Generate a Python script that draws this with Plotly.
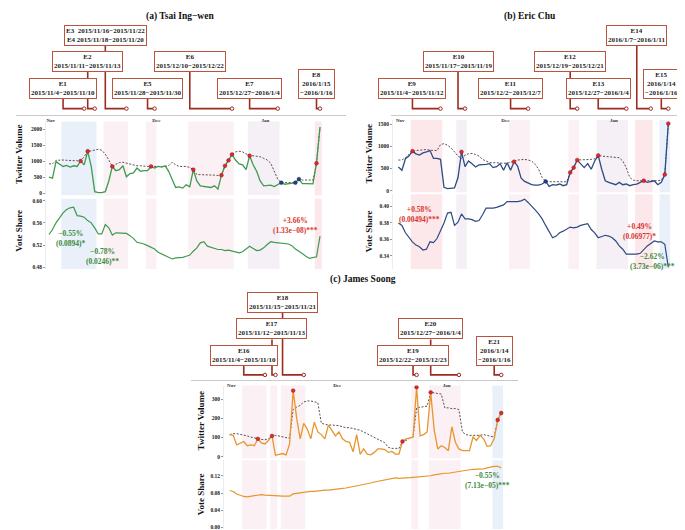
import pandas as pd
import plotly.graph_objects as go

W, H = 685, 530
SERIF = "Liberation Serif"

# ------------------------------------------------------------------ data
dates = pd.date_range("2015-10-31 12:00", periods=78, freq="D")
month_ticks = ["2015-11-01", "2015-12-01", "2016-01-01"]
month_labels = ["Nov", "Dec", "Jan"]

# (a) Tsai Ing-wen
vol_a = [505, 475, 990, 919, 838, 869, 818, 859, 838, 1010, 889, 1313, 838, 50, 20, 20, 50, 384, 838, 707,
         737, 859, 515, 616, 636, 788, 687, 707, 707, 838, 788, 838, 818, 859, 687, 434, 182, 202, 162, 263,
         202, 737, 384, 232, 212, 202, 182, 232, 131, 566, 859, 1030, 1212, 1040, 919, 889, 737, 1172, 889, 687,
         384, 232, 232, 253, 212, 283, 333, 283, 303, 303, 333, 444, 303, 303, 303, 293, 939, 2070]
base_a = [919, 919, 1030, 1040, 1040, 1030, 1030, 1020, 1010, 1010, 1141, 1313, 1323, 1353, 1374, 1343, 1222, 1040, 838, 909,
          960, 970, 939, 919, 889, 859, 859, 838, 838, 838, 838, 818, 818, 838, 859, 970, 889, 838, 838, 838,
          808, 737, 586, 586, 586, 586, 576, 566, 556, 566, 859, 1030, 1212, 1293, 1313, 1293, 1242, 1172, 1172, 1162,
          1141, 1091, 1040, 939, 687, 434, 333, 333, 333, 333, 333, 444, 414, 414, 414, 414, 939, 2070]
vote_a = [0.539, 0.548, 0.560, 0.569, 0.578, 0.584, 0.587, 0.588, 0.573, 0.572, 0.570, 0.564, 0.560, 0.551, 0.540, 0.540,
          0.557, 0.551, 0.538, 0.542, 0.542, 0.542, 0.541, 0.537, 0.532, 0.525, 0.524, 0.522, 0.519, 0.516, 0.513, 0.507,
          0.504, 0.501, 0.498, 0.495, 0.497, 0.497, 0.498, 0.500, 0.502, 0.509, 0.515, 0.524, 0.526, 0.518, 0.516, 0.515,
          0.512, 0.512, 0.510, 0.511, 0.509, 0.507, 0.506, 0.508, 0.513, 0.518, 0.514, 0.510, 0.511, 0.515, 0.521, 0.526,
          0.525, 0.524, 0.523, 0.522, 0.522, 0.519, 0.513, 0.509, 0.504, 0.500, 0.496, 0.497, 0.499, 0.536]
red_a = ["2015-11-09", "2015-11-11", "2015-11-18", "2015-11-29", "2015-12-11", "2015-12-19", "2015-12-20",
         "2015-12-21", "2015-12-22", "2015-12-27", "2016-01-15"]
blue_a = ["2016-01-05", "2016-01-09", "2016-01-10"]
events_a = [
    ("E1<br>2015/11/4−2015/11/10", "2015-11-04", "2015-11-10", 1, "neg"),
    ("E2<br>2015/11/11−2015/11/13", "2015-11-11", "2015-11-13", 2, "neg"),
    ("E3  2015/11/16−2015/11/22<br>E4 2015/11/18−2015/11/20", "2015-11-16", "2015-11-22", 3, "light"),
    ("E5<br>2015/11/28−2015/11/30", "2015-11-28", "2015-11-30", 1, "light"),
    ("E6<br>2015/12/10−2015/12/22", "2015-12-10", "2015-12-22", 2, "light"),
    ("E7<br>2015/12/27−2016/1/4", "2015-12-27", "2016-01-04", 1, "lav"),
    ("E8<br>2016/1/15<br>−2016/1/16", "2016-01-15", "2016-01-16", 1, "pos"),
]
effects_a = [
    ("−0.55%", "(0.0894)*", "2015-11-06 18:00", 0.5316, "neg"),
    ("−0.78%", "(0.0246)**", "2015-11-15 20:00", 0.4993, "neg"),
    ("+3.66%", "(1.33e−08)***", "2016-01-09 10:00", 0.5558, "pos"),
]

# (b) Eric Chu
vol_b = [535, 461, 721, 780, 892, 832, 802, 854, 877, 906, 728, 728, 706, 74, 45, 45, 59, 297, 877, 542,
         669, 609, 535, 580, 580, 594, 609, 520, 542, 609, 461, 632, 461, 654, 557, 282, 208, 171, 134, 126,
         126, 149, 208, 97, 134, 126, 149, 111, 134, 409, 520, 691, 594, 520, 609, 483, 669, 795, 483, 223,
         186, 163, 134, 186, 134, 149, 111, 134, 149, 186, 223, 186, 201, 223, 134, 186, 364, 1516]
base_b = [691, 691, 743, 817, 892, 906, 914, 921, 929, 914, 914, 906, 1040, 1062, 1025, 966, 877, 780, 728, 802,
          832, 840, 817, 780, 706, 669, 632, 632, 632, 624, 617, 617, 646, 654, 691, 706, 706, 691, 669, 594,
          483, 297, 208, 201, 201, 201, 201, 201, 201, 409, 520, 691, 691, 706, 706, 706, 721, 795, 780, 773,
          765, 773, 765, 743, 669, 520, 297, 238, 223, 223, 223, 208, 208, 208, 223, 238, 364, 1516]
vote_b = [0.380, 0.377, 0.368, 0.362, 0.357, 0.353, 0.351, 0.347, 0.348, 0.357, 0.356, 0.361, 0.370, 0.380, 0.392, 0.393,
          0.377, 0.381, 0.391, 0.385, 0.385, 0.384, 0.382, 0.383, 0.390, 0.398, 0.398, 0.398, 0.399, 0.401, 0.402, 0.406,
          0.406, 0.406, 0.406, 0.407, 0.409, 0.405, 0.401, 0.396, 0.391, 0.385, 0.377, 0.369, 0.362, 0.364, 0.368, 0.370,
          0.372, 0.375, 0.374, 0.375, 0.377, 0.378, 0.379, 0.372, 0.368, 0.362, 0.364, 0.365, 0.364, 0.362, 0.358, 0.352,
          0.348, 0.342, 0.342, 0.342, 0.342, 0.343, 0.348, 0.352, 0.355, 0.358, 0.357, 0.357, 0.354, 0.326]
red_b = ["2015-11-04", "2015-11-18", "2015-12-03", "2015-12-19", "2015-12-20", "2015-12-21", "2015-12-27",
         "2016-01-09", "2016-01-15", "2016-01-16"]
blue_b = ["2015-12-12"]
events_b = [
    ("E9<br>2015/11/4−2015/11/12", "2015-11-04", "2015-11-12", 1, "pos"),
    ("E10<br>2015/11/17−2015/11/19", "2015-11-17", "2015-11-19", 2, "lav"),
    ("E11<br>2015/12/2−2015/12/7", "2015-12-02", "2015-12-07", 1, "light"),
    ("E12<br>2015/12/19−2015/12/21", "2015-12-19", "2015-12-21", 2, "light"),
    ("E13<br>2015/12/27−2016/1/4", "2015-12-27", "2016-01-04", 1, "lav"),
    ("E14<br>2016/1/7−2016/1/11", "2016-01-07", "2016-01-11", 3, "pos"),
    ("E15<br>2016/1/14<br>−2016/1/16", "2016-01-14", "2016-01-16", 1, "neg"),
]
effects_b = [
    ("+0.58%", "(0.00494)***", "2015-11-06 14:00", 0.3909, "pos"),
    ("+0.49%", "(0.06977)*", "2016-01-08 07:00", 0.3700, "pos"),
    ("−2.62%", "(3.73e−06)***", "2016-01-12 00:00", 0.3324, "neg"),
]

# (c) James Soong
vol_c = [115, 111, 61, 72, 79, 57, 61, 57, 93, 72, 66, 84, 108, 7, 13, 16, 9, 66, 345, 201,
         93, 174, 144, 93, 180, 129, 115, 93, 165, 133, 108, 129, 93, 79, 75, 25, 115, 13, 40, 13,
         9, 22, 40, 40, 36, 22, 27, 13, 13, 79, 93, 97, 102, 363, 108, 115, 129, 336, 138, 40,
         57, 48, 31, 156, 75, 40, 31, 31, 31, 102, 84, 111, 93, 54, 57, 93, 192, 228]
base_c = [115, 120, 120, 117, 111, 108, 102, 97, 93, 90, 88, 93, 108, 111, 108, 102, 99, 97, 246, 259,
          268, 286, 291, 291, 287, 282, 174, 169, 165, 165, 165, 162, 156, 151, 151, 147, 142, 138, 129, 120,
          111, 102, 93, 84, 72, 48, 43, 43, 43, 79, 84, 97, 102, 255, 259, 260, 264, 336, 332, 330,
          327, 255, 255, 251, 251, 246, 129, 115, 111, 111, 111, 111, 115, 111, 108, 102, 192, 228]
vote_c = [0.0858, 0.0836, 0.0778, 0.0742, 0.0720, 0.0712, 0.0727, 0.0749, 0.0763, 0.0763, 0.0749, 0.0749, 0.0742,
          0.0742, 0.0734, 0.0727, 0.0727, 0.0727, 0.0778, 0.0792, 0.0800, 0.0814, 0.0822, 0.0836, 0.0836, 0.0851,
          0.0851, 0.0865, 0.0865, 0.0880, 0.0894, 0.0901, 0.0909, 0.0916, 0.0931, 0.0945, 0.0960, 0.0974, 0.0996,
          0.1011, 0.1032, 0.1054, 0.1069, 0.1091, 0.1112, 0.1127, 0.1141, 0.1149, 0.1141, 0.1141, 0.1149, 0.1156,
          0.1163, 0.1170, 0.1178, 0.1185, 0.1185, 0.1200, 0.1221, 0.1236, 0.1258, 0.1258, 0.1258, 0.1273, 0.1294,
          0.1309, 0.1323, 0.1330, 0.1338, 0.1345, 0.1345, 0.1352, 0.1360, 0.1381, 0.1403, 0.1418, 0.1418, 0.1381]
red_c = ["2015-11-08", "2015-11-12", "2015-11-18", "2015-12-19", "2015-12-23", "2015-12-27", "2016-01-15", "2016-01-16"]
blue_c = []
events_c = [
    ("E16<br>2015/11/4−2015/11/10", "2015-11-04", "2015-11-10", 1, "light"),
    ("E17<br>2015/11/12−2015/11/13", "2015-11-12", "2015-11-13", 2, "light"),
    ("E18<br>2015/11/15−2015/11/21", "2015-11-15", "2015-11-21", 3, "light"),
    ("E19<br>2015/12/22−2015/12/23", "2015-12-22", "2015-12-23", 1, "light"),
    ("E20<br>2015/12/27−2016/1/4", "2015-12-27", "2016-01-04", 2, "light"),
    ("E21<br>2016/1/14<br>−2016/1/16", "2016-01-14", "2016-01-16", 1, "neg"),
]
effects_c = [
    ("−0.55%", "(7.13e−05)***", "2016-01-12 17:00", 0.1082, "neg"),
]

vol_ticks_a = [0, 500, 1000, 1500, 2000]
vol_ticks_b = [0, 500, 1000, 1500]
vol_ticks_c = [0, 100, 200, 300]
vote_ticks_a = [0.48, 0.52, 0.56, 0.60]
vote_ticks_b = [0.34, 0.36, 0.38, 0.40]
vote_ticks_c = [0.00, 0.04, 0.08, 0.12]

# ------------------------------------------------------------------ style / layout
GREEN, NAVY, ORANGE = "#3f9a4f", "#2d4b84", "#e8952d"
BASE_COL = "#5e4c4c"
RED_DOT, BLUE_DOT = "#e3262a", "#203f8c"
STEM = "#9e2b20"
BOX_BORDER = "#b9553f"
SHADE = {"neg": "#e9f0f9", "pos": "#fce7ea", "light": "#fbf0f3", "lav": "#f5eff6"}
EFFECT_COL = {"neg": "#3b8a3b", "pos": "#d8342c"}

PANELS = [
    dict(title="(a) Tsai Ing−wen", title_xy=(172, 8), color=GREEN,
         vol=vol_a, base=base_a, vote=vote_a, red=red_a, blue=blue_a, events=events_a, effects=effects_a,
         vol_ticks=vol_ticks_a, vote_ticks=vote_ticks_a, vote_fmt="{:.2f}",
         cal=(53.3, 3.52), plot_x=(38, 316), tl_x=(8, 338),
         vol_dom=(113, 187), vol_cal=(0, 185, 2000, 120.7),
         vote_dom=(190.5, 261), vote_cal=(0.60, 192.3, 0.48, 259.3),
         tl_dom=(10, 106), baseline=100, rows={1: 90, 2: 63, 3: 37},
         ytitle_x=11.5, vol_title_y=146, vote_title_y=223),
    dict(title="(b) Eric Chu", title_xy=(521.7, 8), color=NAVY,
         vol=vol_b, base=base_b, vote=vote_b, red=red_b, blue=blue_b, events=events_b, effects=effects_b,
         vol_ticks=vol_ticks_b, vote_ticks=vote_ticks_b, vote_fmt="{:.2f}",
         cal=(402.7, 3.505), plot_x=(385, 666), tl_x=(383, 684),
         vol_dom=(111.5, 184), vol_cal=(0, 182.3, 1500, 115.7),
         vote_dom=(186, 261), vote_cal=(0.40, 198.3, 0.34, 247.7),
         tl_dom=(10, 106), baseline=100, rows={1: 90, 2: 63, 3: 37},
         ytitle_x=361, vol_title_y=145, vote_title_y=223),
    dict(title="(c) James Soong", title_xy=(355, 272), color=ORANGE,
         vol=vol_c, base=base_c, vote=vote_c, red=red_c, blue=blue_c, events=events_c, effects=effects_c,
         vol_ticks=vol_ticks_c, vote_ticks=vote_ticks_c, vote_fmt="{:.2f}",
         cal=(234, 3.527), plot_x=(216, 500), tl_x=(183, 510),
         vol_dom=(378, 451), vol_cal=(0, 449.3, 300, 391.7),
         vote_dom=(453, 522), vote_cal=(0.00, 520.5, 0.12, 468.5),
         tl_dom=(283, 372), baseline=367.3, rows={1: 358.3, 2: 331.7, 3: 305},
         ytitle_x=193, vol_title_y=414, vote_title_y=487),
]

NOV4 = pd.Timestamp("2015-11-04")
HALF = pd.Timedelta(hours=12)


def fmt(ts):
    return pd.Timestamp(ts).strftime("%Y-%m-%d %H:%M:%S")


def xrange_px(L, R, p0, s):
    return [fmt(NOV4 + pd.Timedelta(days=(L - p0) / s)), fmt(NOV4 + pd.Timedelta(days=(R - p0) / s))]


def xdom(L, R):
    return [L / W, R / W]


def ydom(top, bot):
    return [1 - bot / H, 1 - top / H]


def yrange_px(top, bot, v1, p1, v2, p2):
    slope = (v2 - v1) / (p2 - p1)
    return [v1 + (bot - p1) * slope, v1 + (top - p1) * slope]


def axname(kind, n):
    return ("xaxis" if kind == "x" else "yaxis") + ("" if n == 1 else str(n))


def ref(kind, n):
    return kind + ("" if n == 1 else str(n))


tickfont = dict(family=SERIF, size=5.5, color="#222", weight="bold")
fig = go.Figure()
layout = {}
shapes = []
annotations = []

for i, P in enumerate(PANELS):
    n_vol, n_vote, n_tl = 3 * i + 1, 3 * i + 2, 3 * i + 3
    p0, s = P["cal"]
    assert len(P["vol"]) == len(P["base"]) == len(P["vote"]) == len(dates)

    for n in (n_vol, n_vote):
        layout[axname("x", n)] = dict(domain=xdom(*P["plot_x"]), range=xrange_px(*P["plot_x"], p0, s),
                                      type="date", anchor=ref("y", n), visible=False)
    layout[axname("x", n_tl)] = dict(domain=xdom(*P["tl_x"]), range=xrange_px(*P["tl_x"], p0, s),
                                     type="date", anchor=ref("y", n_tl), showline=True, linecolor="#c9c9c9",
                                     linewidth=1, tickvals=month_ticks, ticktext=month_labels, ticks="",
                                     tickfont=dict(family=SERIF, size=5, color="#333", weight="bold"),
                                     showgrid=False, zeroline=False)
    common_y = dict(showgrid=False, zeroline=False, ticks="outside", ticklen=2, tickwidth=0.6,
                    tickcolor="#999", tickfont=tickfont, showline=True, linecolor="#ececec", linewidth=0.6)
    layout[axname("y", n_vol)] = dict(domain=ydom(*P["vol_dom"]), range=yrange_px(*P["vol_dom"], *P["vol_cal"]),
                                      anchor=ref("x", n_vol), tickvals=P["vol_ticks"],
                                      ticktext=[str(t) for t in P["vol_ticks"]], **common_y)
    layout[axname("y", n_vote)] = dict(domain=ydom(*P["vote_dom"]), range=yrange_px(*P["vote_dom"], *P["vote_cal"]),
                                       anchor=ref("x", n_vote), tickvals=P["vote_ticks"],
                                       ticktext=[P["vote_fmt"].format(t) for t in P["vote_ticks"]], **common_y)
    tl_top, tl_bot = P["tl_dom"]
    layout[axname("y", n_tl)] = dict(domain=ydom(tl_top, tl_bot), range=[-tl_bot, -tl_top],
                                     anchor=ref("x", n_tl), visible=False)

    # shaded event periods
    for text, start, end, row, shade in P["events"]:
        x0 = fmt(pd.Timestamp(start))
        x1 = fmt(pd.Timestamp(end) + pd.Timedelta(days=1))
        for n in (n_vol, n_vote):
            shapes.append(dict(type="rect", xref=ref("x", n), yref=ref("y", n) + " domain",
                               x0=x0, x1=x1, y0=0, y1=1, fillcolor=SHADE[shade], line=dict(width=0),
                               layer="below"))

    # volume: baseline (dashed) and observed (solid)
    fig.add_trace(go.Scatter(x=dates, y=P["base"], mode="lines", xaxis=ref("x", n_vol), yaxis=ref("y", n_vol),
                             line=dict(color=BASE_COL, width=1, dash="2px,1.6px"), hoverinfo="skip"))
    fig.add_trace(go.Scatter(x=dates, y=P["vol"], mode="lines", xaxis=ref("x", n_vol), yaxis=ref("y", n_vol),
                             line=dict(color=P["color"], width=1.3)))
    series = pd.Series(P["vol"], index=dates.normalize())
    for days, col in ((P["red"], RED_DOT), (P["blue"], BLUE_DOT)):
        if not days:
            continue
        idx = pd.to_datetime(days)
        fig.add_trace(go.Scatter(x=idx + HALF, y=series.loc[idx].values, mode="markers",
                                 xaxis=ref("x", n_vol), yaxis=ref("y", n_vol),
                                 marker=dict(color=col, size=3.8,
                                             line=dict(color="#7a1414" if col == RED_DOT else "#0d1f4f", width=0.4))))
    # vote share
    fig.add_trace(go.Scatter(x=dates, y=P["vote"], mode="lines", xaxis=ref("x", n_vote), yaxis=ref("y", n_vote),
                             line=dict(color=P["color"], width=1.2)))

    # timeline stems + boxes
    base_y = -P["baseline"]
    for text, start, end, row, shade in P["events"]:
        xs = pd.Timestamp(start) + HALF
        xe = pd.Timestamp(end) + HALF
        ry = -P["rows"][row]
        fig.add_trace(go.Scatter(x=[xs, xs, xe], y=[ry, base_y, base_y], mode="lines",
                                 xaxis=ref("x", n_tl), yaxis=ref("y", n_tl),
                                 line=dict(color=STEM, width=1.6), hoverinfo="skip"))
        fig.add_trace(go.Scatter(x=[xe], y=[base_y], mode="markers", xaxis=ref("x", n_tl), yaxis=ref("y", n_tl),
                                 marker=dict(symbol="circle", size=3.5, color="white", line=dict(color=STEM, width=1)),
                                 hoverinfo="skip"))
        annotations.append(dict(text=text, x=fmt(xs), y=ry, xref=ref("x", n_tl), yref=ref("y", n_tl),
                                xanchor="center", yanchor="bottom", showarrow=False, bgcolor="white",
                                bordercolor=BOX_BORDER, borderwidth=1, borderpad=1,
                                font=dict(family=SERIF, size=7, color="#222", weight="bold")))

    # effect annotations
    for l1, l2, xpos, ypos, kind in P["effects"]:
        annotations.append(dict(text=l1 + "<br>" + l2, x=xpos, y=ypos, xref=ref("x", n_vote), yref=ref("y", n_vote),
                                showarrow=False, xanchor="center", yanchor="middle",
                                font=dict(family=SERIF, size=7.5, color=EFFECT_COL[kind], weight="bold")))

    # titles
    tx, ty = P["title_xy"]
    annotations.append(dict(text=P["title"], x=tx / W, y=1 - ty / H, xref="paper", yref="paper",
                            showarrow=False, xanchor="center", yanchor="middle",
                            font=dict(family=SERIF, size=9.5, color="#111", weight="bold")))
    for label, yc in (("Twitter Volume", P["vol_title_y"]), ("Vote Share", P["vote_title_y"])):
        annotations.append(dict(text=label, x=P["ytitle_x"] / W, y=1 - yc / H, xref="paper", yref="paper",
                                showarrow=False, xanchor="center", yanchor="middle", textangle=-90,
                                font=dict(family=SERIF, size=9, color="#111", weight="bold")))

fig.update_layout(width=W, height=H, margin=dict(l=0, r=0, t=0, b=0), paper_bgcolor="white",
                  plot_bgcolor="rgba(0,0,0,0)", showlegend=False, shapes=shapes, annotations=annotations,
                  **layout)
fig.write_html("out.html")
